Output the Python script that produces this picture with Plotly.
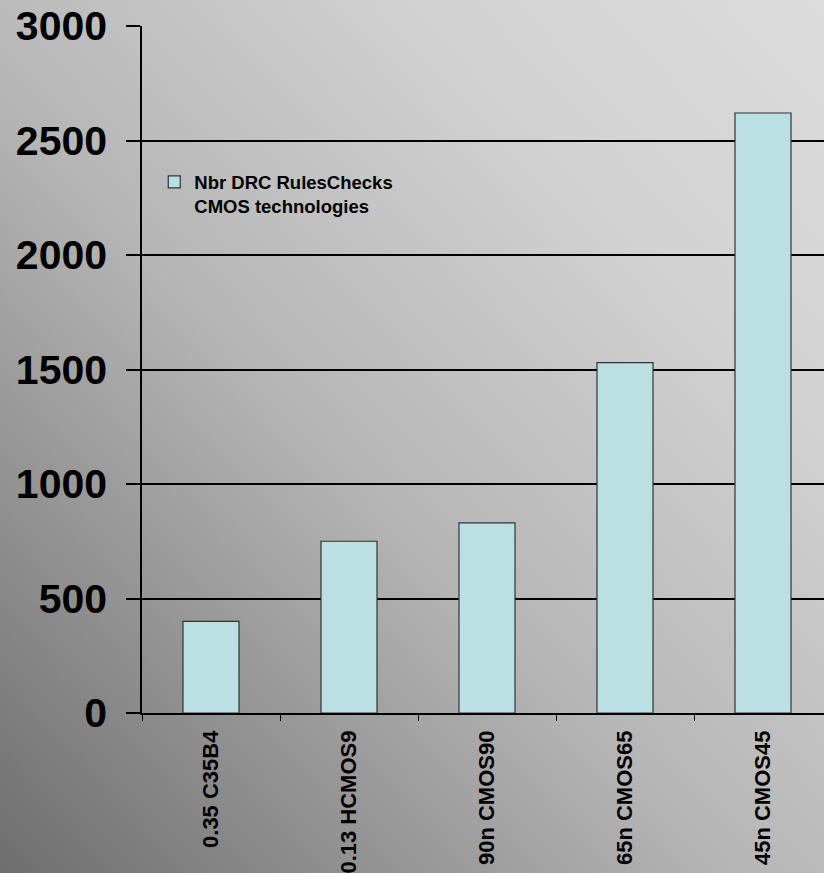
import base64
import plotly.graph_objects as go

categories = ["0.35 C35B4", "0.13 HCMOS9", "90n CMOS90", "65n CMOS65", "45n CMOS45"]
values = [400, 750, 830, 1530, 2620]
y_ticks = [0, 500, 1000, 1500, 2000, 2500, 3000]
series_name = "Nbr DRC RulesChecks<br>CMOS technologies"

W, H = 824, 873
ML, MR, MT, MB = 142, 0, 26, 160
PW, PH = W - ML - MR, H - MT - MB

svg = f'''<svg xmlns="http://www.w3.org/2000/svg" width="{W}" height="{H}" viewBox="0 0 {W} {H}" preserveAspectRatio="none">
<defs><linearGradient id="g" x1="0" y1="1" x2="1" y2="0">
<stop offset="0" stop-color="#6e6e6e"/>
<stop offset="0.45" stop-color="#b6b6b6"/>
<stop offset="0.75" stop-color="#d2d2d2"/>
<stop offset="1" stop-color="#dcdcdc"/>
</linearGradient></defs>
<rect width="{W}" height="{H}" fill="url(#g)"/></svg>'''
src = "data:image/svg+xml;base64," + base64.b64encode(svg.encode()).decode()

fig = go.Figure()
fig.add_trace(go.Bar(
    x=categories, y=values, name=series_name,
    marker=dict(color="#bbe0e3", line=dict(color="#333333", width=1.2)),
    showlegend=True,
))

fig.update_layout(
    width=W, height=H,
    margin=dict(l=ML, r=MR, t=MT, b=MB, autoexpand=False),
    paper_bgcolor="#bdbdbd",
    plot_bgcolor="rgba(0,0,0,0)",
    bargap=0.594,
    font=dict(family="Liberation Sans, Arial", color="black"),
    images=[dict(source=src, xref="paper", yref="paper",
                 x=-ML / PW, y=1 + MT / PH, sizex=W / PW, sizey=H / PH,
                 xanchor="left", yanchor="top", sizing="stretch", layer="below")],
    legend=dict(x=0.018, y=0.8, xanchor="left", yanchor="top",
                bgcolor="rgba(0,0,0,0)", valign="top", tracegroupgap=0,
                font=dict(size=18.5, weight="bold", family="Liberation Sans, Arial")),
    xaxis=dict(
        range=[-0.5, -0.5 + PW / 138], showgrid=False,
        showline=True, linecolor="black", linewidth=1.5,
        ticks="outside", tickson="boundaries", ticklen=6, tickcolor="black", tickwidth=1,
        tickangle=-90, tickfont=dict(size=22, weight="bold"),
        ticklabelstandoff=7,
    ),
    yaxis=dict(
        range=[0, 3000], tickvals=y_ticks,
        showgrid=True, gridcolor="black", gridwidth=1.5,
        showline=True, linecolor="black", linewidth=1.5,
        ticks="outside", ticklen=14, tickcolor="black", tickwidth=1.5,
        tickfont=dict(size=41, weight="bold"),
        ticklabelstandoff=11, zeroline=False,
    ),
)

fig.write_html("out.html")
